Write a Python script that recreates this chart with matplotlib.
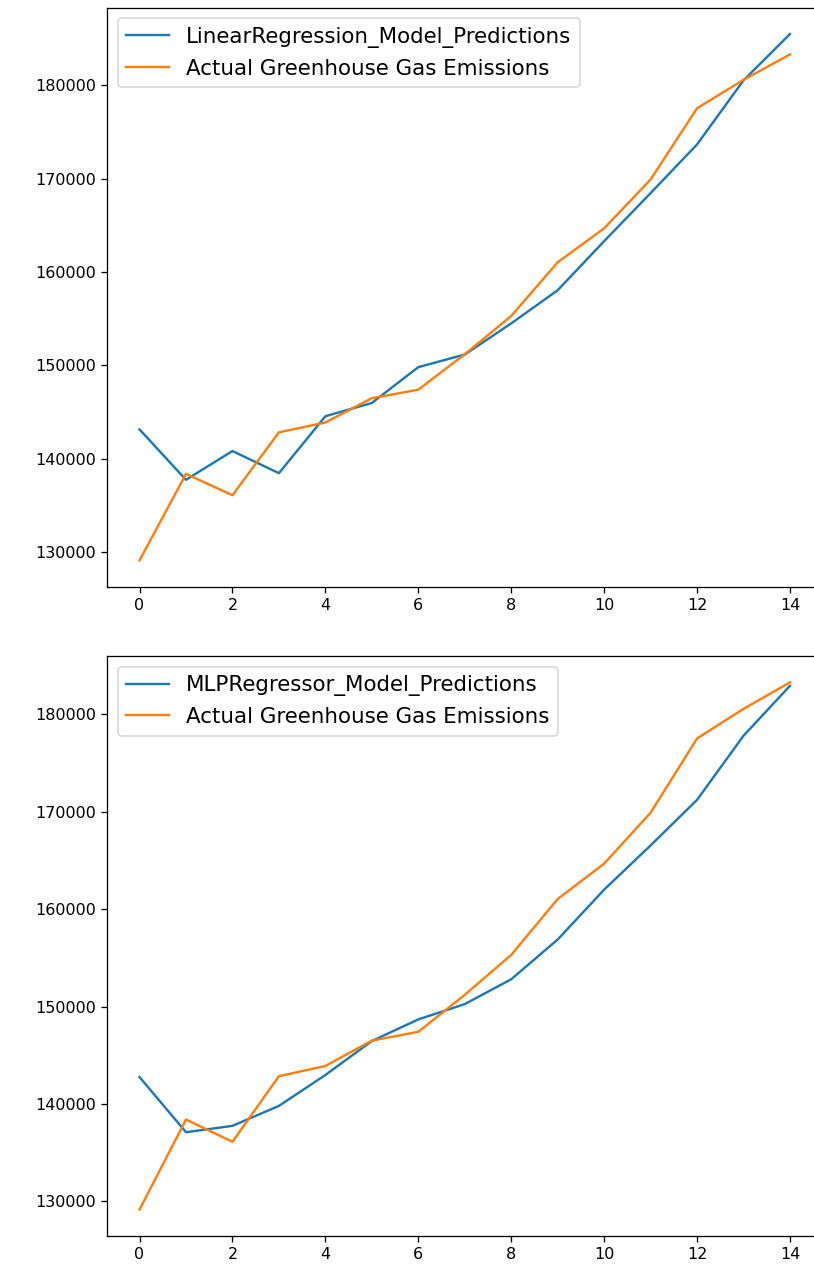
import matplotlib
matplotlib.use("Agg")
import matplotlib.pyplot as plt
import numpy as np

# Test-set index (15 samples)
sample_index = list(range(15))

# Observed greenhouse gas emissions
actual_emissions = [129150, 138400, 136120, 142850, 143900, 146500, 147410, 151200,
                    155300, 161040, 164670, 169900, 177520, 180560, 183280]

# Linear regression predictions
linear_predictions = [143160, 137770, 140850, 138480, 144570, 145990, 149820, 151170,
                      154500, 158050, 163300, 168440, 173650, 180500, 185460]

# MLP regressor predictions
mlp_predictions = [142760, 137100, 137750, 139800, 142970, 146460, 148680, 150250,
                   152800, 156880, 162000, 166540, 171220, 177800, 182930]

DPI = 115
W, H = 814, 1274
fig = plt.figure(figsize=(W / DPI, H / DPI), dpi=DPI)

# Axes placed in pixel units (left, top, width, height)
def px_axes(left, top, width, height):
    return fig.add_axes([left / W, (H - top - height) / H, width / W, height / H])

ax1 = px_axes(107, 7.7, 715.5, 579)
ax2 = px_axes(107, 656, 715.5, 580)

LEGEND_SIZE = 13.4

ax1.plot(sample_index, linear_predictions, label="LinearRegression_Model_Predictions")
ax1.plot(sample_index, actual_emissions, label="Actual Greenhouse Gas Emissions")
ax1.legend(loc="upper left", fontsize=LEGEND_SIZE)

ax2.plot(sample_index, mlp_predictions, label="MLPRegressor_Model_Predictions")
ax2.plot(sample_index, actual_emissions, label="Actual Greenhouse Gas Emissions")
ax2.legend(loc="upper left", fontsize=LEGEND_SIZE)

fig.savefig("out.png", dpi=DPI)
